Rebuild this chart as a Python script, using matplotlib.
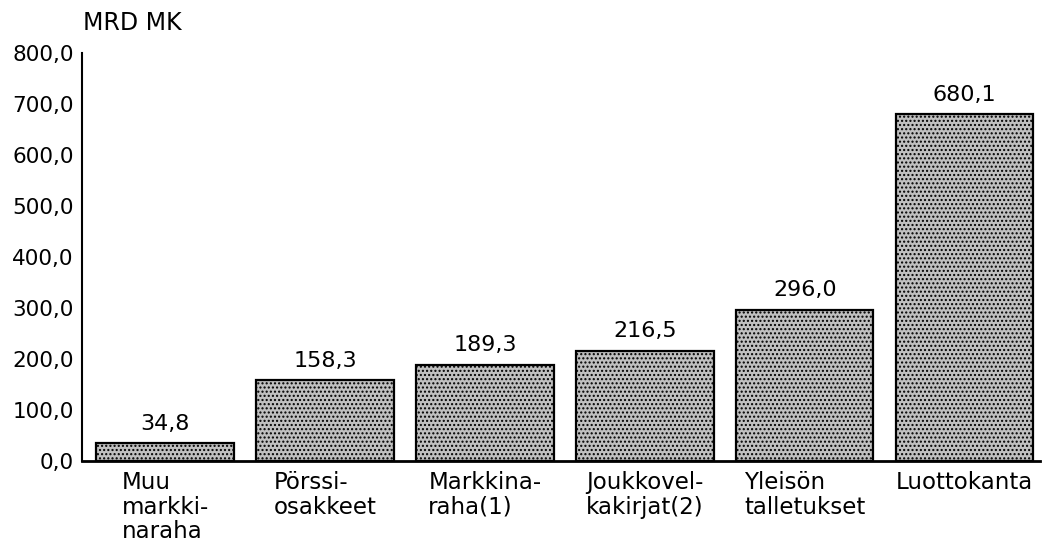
import matplotlib
matplotlib.use("Agg")
from matplotlib import pyplot as plt
import numpy as np

categories = ["Muu\nmarkki-\nnaraha", "Pörssi-\nosakkeet", "Markkina-\nraha(1)",
              "Joukkovel-\nkakirjat(2)", "Yleisön\ntalletukset", "Luottokanta"]
values = [34.8, 158.3, 189.3, 216.5, 296.0, 680.1]
yticks = [0, 100, 200, 300, 400, 500, 600, 700, 800]

plt.rcParams["font.family"] = ["DejaVu Sans"]
plt.rcParams["hatch.color"] = "#888888"
plt.rcParams["hatch.linewidth"] = 1.0

fig = plt.figure(figsize=(10.46, 5.43), dpi=100)
ax = fig.add_axes([0.0784, 0.151, 0.9156, 0.751])

x = np.arange(len(values))
ax.bar(x, values, width=0.86, color="#c0c0c0", edgecolor="black",
       linewidth=1.6, hatch="....")

for xi, v in zip(x, values):
    ax.annotate("{0:.1f}".format(v).replace(".", ","), (xi, v),
                xytext=(0, 7), textcoords="offset points",
                ha="center", va="bottom", fontsize=16)

ax.set_xlim(-0.52, 5.47)
ax.set_ylim(0, 800)
ax.set_yticks(yticks)
ax.set_yticklabels(["{0:.1f}".format(t).replace(".", ",") for t in yticks], fontsize=15.5)
ax.tick_params(axis="y", length=0, pad=6)
ax.set_xticks(x)
ax.set_xticklabels(categories, fontsize=16.5, multialignment="left", linespacing=1.1)
ax.tick_params(axis="x", length=0, pad=7)

for s in ["top", "right"]:
    ax.spines[s].set_visible(False)
ax.spines["left"].set_linewidth(1.5)
ax.spines["bottom"].set_linewidth(2)

fig.text(0.079, 0.958, "MRD MK", fontsize=17, ha="left", va="center")

fig.savefig("out.png", dpi=100)
